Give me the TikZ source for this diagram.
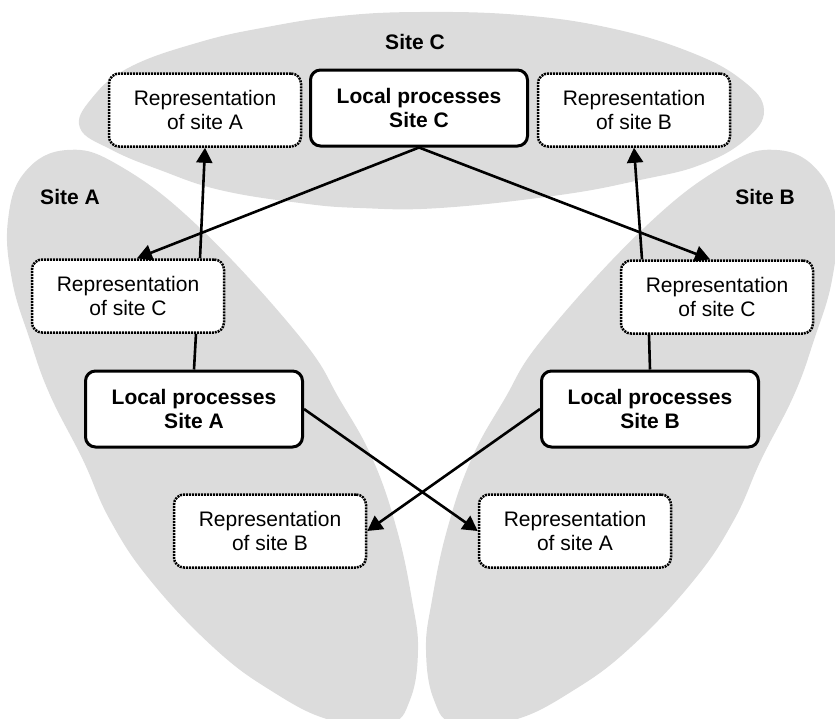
\documentclass[tikz,border=0pt]{standalone}
\usepackage{fontspec}
\setmainfont{Liberation Sans}
\usetikzlibrary{arrows.meta,calc}
\definecolor{sitefill}{RGB}{220,220,220}
\tikzset{
  site/.style={fill=sitefill, draw=none},
  localbox/.style={draw, line width=3pt, rounded corners=10pt, fill=white,
    minimum width=217pt, minimum height=76pt, align=center, inner sep=0pt,
    font=\fontsize{21}{24.5}\selectfont\bfseries},
  repbox/.style={draw, line width=2.5pt, dash pattern=on 2pt off 1pt,
    rounded corners=10pt, fill=white, minimum width=192pt, minimum height=73pt,
    align=center, inner sep=0pt, font=\fontsize{21}{24.5}\selectfont},
  sitelabel/.style={font=\fontsize{21}{24}\selectfont\bfseries, inner sep=0pt},
  link/.style={line width=2.6pt},
  flow/.style={link, -{Triangle[length=15pt,width=16pt]}},
}
\begin{document}
\begin{tikzpicture}[x=1pt,y=-1pt]
\useasboundingbox (0,0) rectangle (835,718);

% grey site areas
\begin{scope}
  \clip (0,0) rectangle (835,718);
  % site C
  \fill[site] plot[smooth cycle, tension=0.7] coordinates {
    (80,128) (92,98) (130,67) (200,42) (267,27) (340,16) (420,12) (520,15)
    (610,28) (690,52) (742,80) (764,110) (745,140) (700,165) (640,180)
    (560,195) (440,208) (360,208) (300,203) (220,190) (160,170) (112,150)};
  % site A
  \fill[site] plot[smooth cycle, tension=0.7] coordinates {
    (67,150) (120,166) (200,228) (300,337) (340,400) (373,460) (397,530)
    (412,600) (418,650) (410,700) (388,724) (330,720) (270,690) (213,647)
    (150,580) (110,520) (83,460) (50,395) (30,340) (12,280) (8,220) (25,172)};
  % site B, mirror image of site A
  \begin{scope}[xshift=844pt, xscale=-1]
  \fill[site] plot[smooth cycle, tension=0.7] coordinates {
    (67,150) (120,166) (200,228) (300,337) (340,400) (373,460) (397,530)
    (412,600) (418,650) (410,700) (388,724) (330,720) (270,690) (213,647)
    (150,580) (110,520) (83,460) (50,395) (30,340) (12,280) (8,220) (25,172)};
  \end{scope}
\end{scope}

% site labels
\node[sitelabel] (labC) at (415,42) {Site C};
\node[sitelabel] (labA) at (70,197) {Site A};
\node[sitelabel] (labB) at (765,197) {Site B};

% site C
\node[repbox]   (repAT)  at (205,110) {Representation\\of site A};
\node[localbox] (localC) at (419,108) {Local processes\\Site C};
\node[repbox]   (repBT)  at (634,110) {Representation\\of site B};

% site A
\node[repbox]   (repCL)  at (128,296) {Representation\\of site C};
\node[localbox] (localA) at (194,409) {Local processes\\Site A};
\node[repbox]   (repBB)  at (270,531) {Representation\\of site B};

% site B
\node[repbox]   (repCR)  at (717,297) {Representation\\of site C};
\node[localbox] (localB) at (650,409) {Local processes\\Site B};
\node[repbox]   (repAB)  at (575,531) {Representation\\of site A};

% connectors
\draw[flow] (localC.south) -- ($(repCL.north)+(9,0)$);
\draw[flow] (localC.south) -- ($(repCR.north)+(-7,0)$);
\draw[flow] ($(repCL.north)+(72,0)$) -- (repAT.south);
\draw[flow] ($(repCR.north)+(-75,0)$) -- (repBT.south);
\draw[link] ($(repCL.south)+(68,0)$) -- (localA.north);
\draw[link] ($(repCR.south)+(-68,0)$) -- (localB.north);
\draw[flow] (localA.east) -- (repAB.west);
\draw[flow] (localB.west) -- (repBB.east);
\end{tikzpicture}
\end{document}
